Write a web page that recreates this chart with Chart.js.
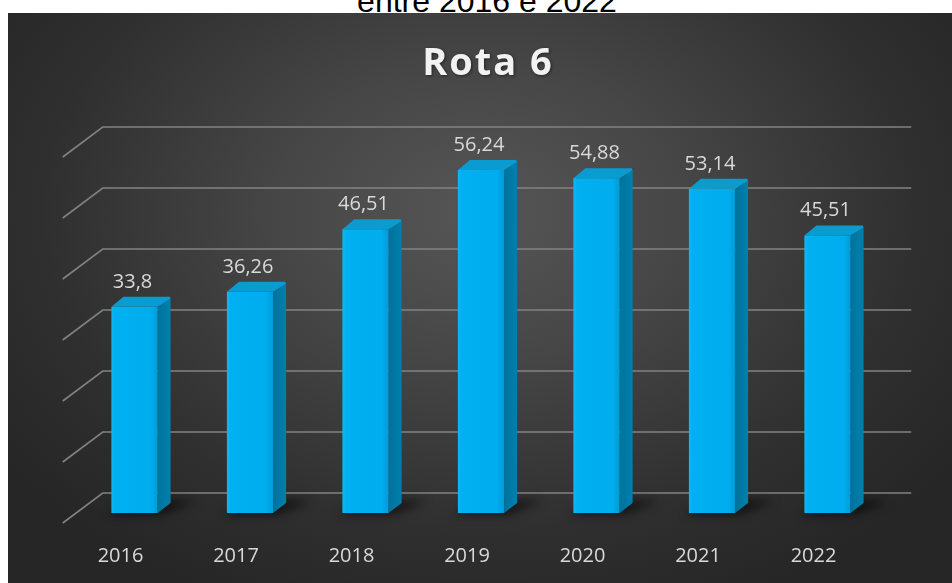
<!DOCTYPE html>
<html>
<head>
<meta charset="utf-8">
<script src="https://cdn.jsdelivr.net/npm/chart.js@4.4.1/dist/chart.umd.min.js"></script>
<style>
  html, body { margin: 0; padding: 0; background: #ffffff; width: 952px; height: 583px; overflow: hidden; position: relative; }
  #caption { position: absolute; left: 487px; top: -15px; transform: translateX(-50%); white-space: nowrap;
    font-family: "Liberation Sans", Arial, sans-serif; font-size: 32px; line-height: 32px; color: #000; }
  #panel { position: absolute; left: 8px; top: 13px; width: 944px; height: 570px;
    background: radial-gradient(ellipse 62% 75% at 50% 35%, #565656 0%, #464646 35%, #2f2f2f 75%, #262626 100%); }
  #c { position: absolute; left: 0; top: 0; }
</style>
</head>
<body>
<div id="caption">entre 2016 e 2022</div>
<div id="panel"><canvas id="c" width="944" height="570"></canvas></div>
<script>
const chartTitle = 'Rota 6';
const years = ['2016', '2017', '2018', '2019', '2020', '2021', '2022'];
const values = [33.8, 36.26, 46.51, 56.24, 54.88, 53.14, 45.51];
const yTicks = [0, 10, 20, 30, 40, 50, 60];

const DEPTH_X = 40, DEPTH_Y = -30;      // floor / wall perspective depth
const BAR_OFF_X = 14, BAR_OFF_Y = -10;   // bar placed in middle depth
const BAR_DX = 13, BAR_DY = -10;         // bar thickness

function fmt(v) { return String(v).replace('.', ','); }

const perspectivePlugin = {
  id: 'perspective',
  beforeDatasetsDraw(chart) {
    const ctx = chart.ctx;
    const ys = chart.scales.y;
    const area = chart.chartArea;
    ctx.save();
    ctx.strokeStyle = '#828282';
    ctx.lineWidth = 1.6;
    yTicks.forEach(v => {
      const yf = ys.getPixelForValue(v);
      ctx.beginPath();
      ctx.moveTo(area.left, yf);
      ctx.lineTo(area.left + DEPTH_X, yf + DEPTH_Y);
      ctx.lineTo(area.right + DEPTH_X, yf + DEPTH_Y);
      ctx.stroke();
    });
    ctx.restore();
  },
  afterDatasetsDraw(chart) {
    const ctx = chart.ctx;
    const meta = chart.getDatasetMeta(0);
    meta.data.forEach((bar, i) => {
      const p = bar.getProps(['x', 'y', 'base', 'width'], true);
      const fx = p.x - p.width / 2 + BAR_OFF_X;
      const fw = p.width;
      const fy = p.y + BAR_OFF_Y;
      const fb = p.base + BAR_OFF_Y;
      ctx.save();
      // floor shadow
      ctx.save();
      ctx.filter = 'blur(5px)';
      ctx.fillStyle = 'rgba(0,0,0,0.55)';
      ctx.beginPath();
      ctx.moveTo(fx - 4, fb + 2);
      ctx.lineTo(fx + fw + 4, fb + 2);
      ctx.lineTo(fx + fw + BAR_DX + 26, fb + BAR_DY - 2);
      ctx.lineTo(fx + BAR_DX + 10, fb + BAR_DY - 4);
      ctx.closePath();
      ctx.fill();
      ctx.restore();
      // side face
      const sg = ctx.createLinearGradient(fx + fw, 0, fx + fw + BAR_DX, 0);
      sg.addColorStop(0, '#00729c');
      sg.addColorStop(1, '#0080ae');
      ctx.fillStyle = sg;
      ctx.beginPath();
      ctx.moveTo(fx + fw, fy);
      ctx.lineTo(fx + fw + BAR_DX, fy + BAR_DY + 2);
      ctx.lineTo(fx + fw + BAR_DX, fb + BAR_DY);
      ctx.lineTo(fx + fw, fb);
      ctx.closePath();
      ctx.fill();
      // top face
      ctx.fillStyle = '#0a9bd0';
      ctx.beginPath();
      ctx.moveTo(fx, fy);
      ctx.lineTo(fx + BAR_DX - 1, fy + BAR_DY);
      ctx.lineTo(fx + fw + BAR_DX - 1, fy + BAR_DY);
      ctx.lineTo(fx + fw + BAR_DX, fy + BAR_DY + 2);
      ctx.lineTo(fx + fw, fy);
      ctx.closePath();
      ctx.fill();
      // front face
      const fg = ctx.createLinearGradient(fx, 0, fx + fw, 0);
      fg.addColorStop(0, '#10b8f4');
      fg.addColorStop(0.08, '#00b0f0');
      fg.addColorStop(0.85, '#00adee');
      fg.addColorStop(1, '#009bd6');
      ctx.fillStyle = fg;
      ctx.fillRect(fx, fy, fw, fb - fy);
      // value label
      ctx.font = '20px "Open Sans", sans-serif';
      ctx.fillStyle = '#d9d9d9';
      ctx.textAlign = 'center';
      ctx.textBaseline = 'middle';
      ctx.fillText(fmt(values[i]), fx + fw / 2 - 2, fy - 25);
      ctx.restore();
    });
  },
  afterDraw(chart) {
    const ctx = chart.ctx;
    ctx.save();
    ctx.font = 'bold 38px "Open Sans", sans-serif';
    if ('letterSpacing' in ctx) ctx.letterSpacing = '2px';
    ctx.textAlign = 'center';
    ctx.textBaseline = 'alphabetic';
    ctx.shadowColor = 'rgba(0,0,0,0.5)';
    ctx.shadowBlur = 3;
    ctx.shadowOffsetX = 1;
    ctx.shadowOffsetY = 1;
    ctx.fillStyle = '#f2f2f2';
    ctx.fillText(chartTitle, 480, 62);
    ctx.restore();
  }
};

new Chart(document.getElementById('c'), {
  type: 'bar',
  data: {
    labels: years,
    datasets: [{
      data: values,
      backgroundColor: 'rgba(0,0,0,0)',
      borderWidth: 0,
      categoryPercentage: 1,
      barPercentage: 0.4
    }]
  },
  options: {
    responsive: false,
    devicePixelRatio: 1,
    animation: false,
    layout: { padding: { left: 54.75, right: 80.75, top: 144, bottom: 0 } },
    plugins: { legend: { display: false }, tooltip: { enabled: false }, title: { display: false } },
    scales: {
      y: { display: false, min: 0, max: 60 },
      x: {
        grid: { display: false, drawTicks: false, tickLength: 0 },
        border: { display: false },
        ticks: { color: '#d9d9d9', font: { family: '"Open Sans", sans-serif', size: 20 }, padding: 21, maxRotation: 0 },
        afterFit(s) { s.height = 60; }
      }
    }
  },
  plugins: [perspectivePlugin]
});
</script>
</body>
</html>
